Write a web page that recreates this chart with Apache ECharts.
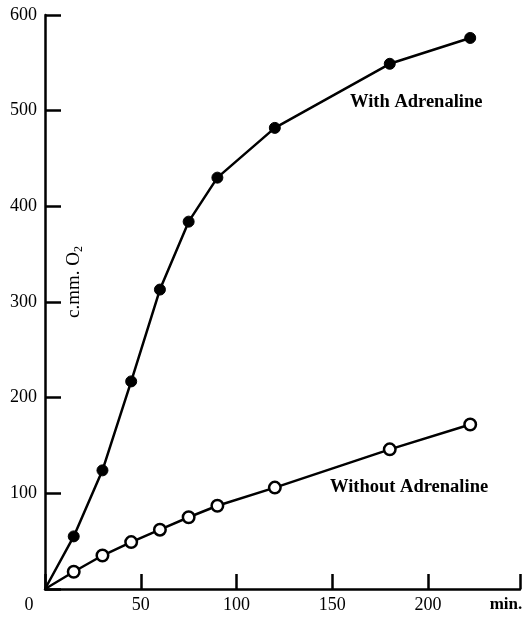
<!DOCTYPE html>
<html><head><meta charset="utf-8">
<script src="https://cdn.jsdelivr.net/npm/echarts@6/dist/echarts.min.js"></script>
<style>html,body{margin:0;padding:0;background:#fff}#c{width:526px;height:621px}</style>
</head><body><div id="c"></div>
<script>
const minutes = [0, 15, 30, 45, 60, 75, 90, 120, 180, 222];
const withAdrenaline = [0, 55, 124, 217, 313, 384, 430, 482, 549, 576];
const withoutAdrenaline = [0, 18, 35, 49, 62, 75, 87, 106, 146, 172];
const xTickLabels = ['0', '50', '100', '150', '200'];
const xEndLabel = 'min.';
const yTickLabels = ['100', '200', '300', '400', '500', '600'];
const yAxisTitle = 'c.mm. O';
const seriesNames = ['With Adrenaline', 'Without Adrenaline'];

const font = 'Liberation Serif';
const chart = echarts.init(document.getElementById('c'));
chart.setOption({
  animation: false,
  backgroundColor: '#fff',
  grid: {left: 45, right: 6, top: 15, bottom: 32, containLabel: false},
  xAxis: {
    type: 'value', min: 0, max: 248, interval: 50,
    axisLine: {lineStyle: {color: '#000', width: 2.5}},
    axisTick: {inside: true, length: 15, lineStyle: {color: '#000', width: 2.5}},
    splitLine: {show: false},
    axisLabel: {
      margin: 7, color: '#000', fontFamily: font, fontSize: 18,
      formatter: v => {
        if (v === 0) return '{z|' + xTickLabels[0] + '}';
        if (v % 50 !== 0) return '{m|' + xEndLabel + '}';
        return xTickLabels[v / 50];
      },
      rich: {
        z: {fontFamily: font, fontSize: 18, color: '#000', padding: [0, 32, 0, 0]},
        m: {fontFamily: font, fontSize: 17, fontWeight: 'bold', color: '#000', padding: [0, 28, 0, 0]}
      }
    }
  },
  yAxis: {
    type: 'value', min: 0, max: 600, interval: 100,
    axisLine: {lineStyle: {color: '#000', width: 2.5}},
    axisTick: {inside: true, length: 16, lineStyle: {color: '#000', width: 2.5}},
    splitLine: {show: false},
    axisLabel: {
      margin: 8, color: '#000', fontFamily: font, fontSize: 18,
      formatter: v => v === 0 ? '' : yTickLabels[v / 100 - 1]
    }
  },
  graphic: [
    {type: 'text', left: 350, top: 93, style: {text: seriesNames[0], font: 'bold 18.5px "Liberation Serif"', fill: '#000'}},
    {type: 'text', left: 330, top: 478, style: {text: seriesNames[1], font: 'bold 18.5px "Liberation Serif"', fill: '#000'}},
    {type: 'text', x: 63, y: 318, rotation: Math.PI / 2,
     style: {text: yAxisTitle + '{s|2}', font: '19px "Liberation Serif"', fill: '#000',
       rich: {s: {fontSize: 12, fontFamily: font, fill: '#000', padding: [10, 0, 0, 0]}}}}
  ],
  series: [
    {
      name: seriesNames[0], type: 'line',
      data: minutes.map((m, i) => [m, withAdrenaline[i]]),
      symbol: 'circle', symbolSize: (v, p) => p.dataIndex === 0 ? 0 : 11,
      lineStyle: {color: '#000', width: 2.5},
      itemStyle: {color: '#000', borderColor: '#000', borderWidth: 1}
    },
    {
      name: seriesNames[1], type: 'line',
      data: minutes.map((m, i) => [m, withoutAdrenaline[i]]),
      symbol: 'circle', symbolSize: (v, p) => p.dataIndex === 0 ? 0 : 11.5,
      lineStyle: {color: '#000', width: 2.5},
      itemStyle: {color: '#fff', borderColor: '#000', borderWidth: 2.5}
    }
  ]
});
</script></body></html>
